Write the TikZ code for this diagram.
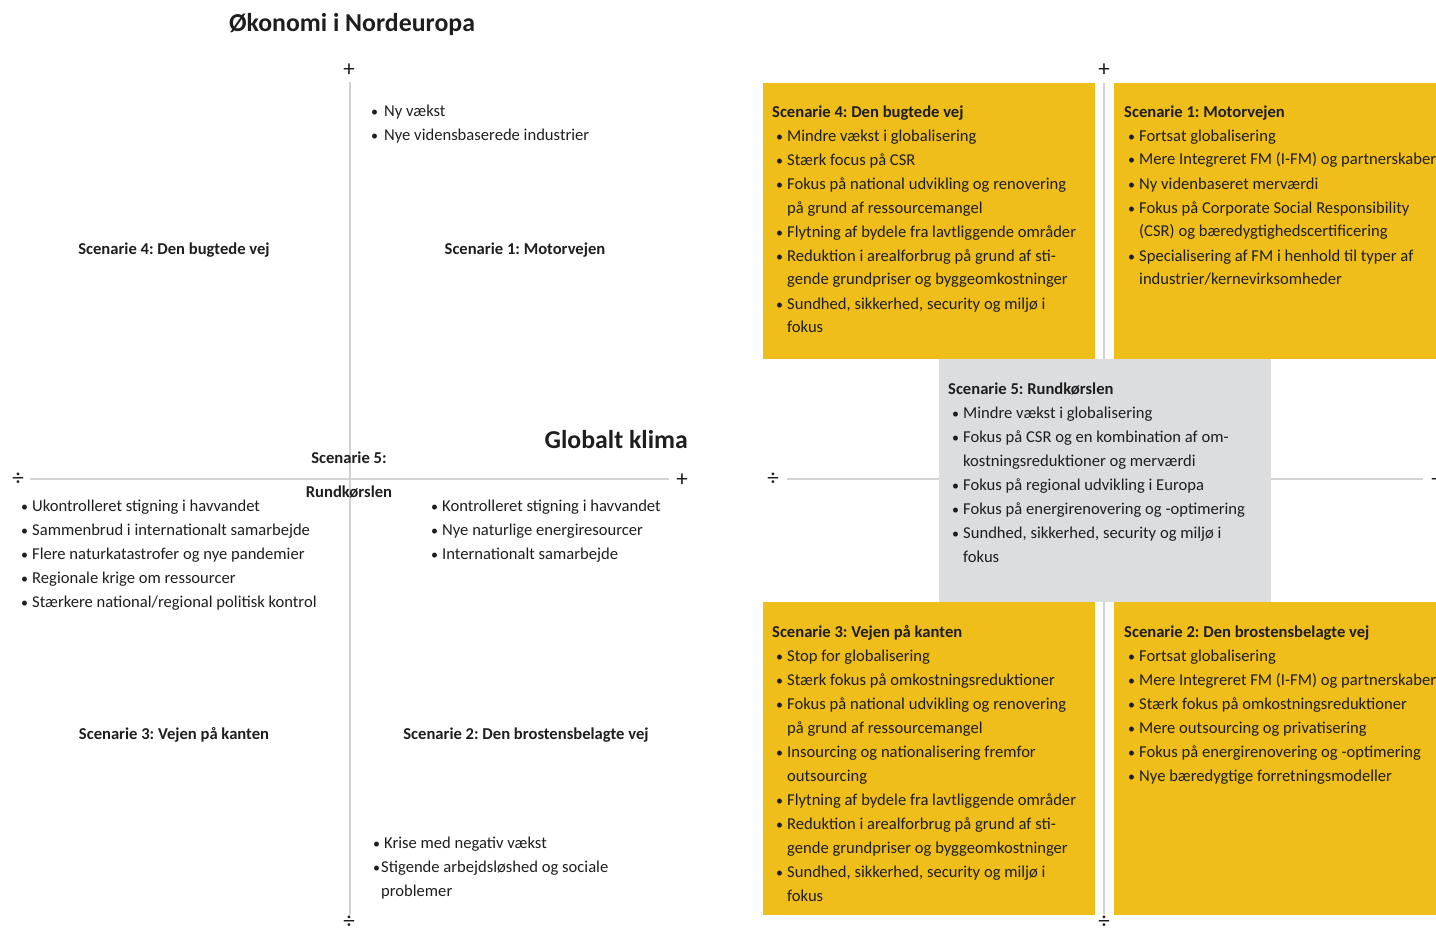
\documentclass[tikz,border=0pt]{standalone}
\usepackage{fontspec}
\setmainfont{Carlito}
\usetikzlibrary{positioning}
\definecolor{scenyellow}{RGB}{240,190,26}
\definecolor{scengray}{RGB}{220,221,223}
\definecolor{axisgray}{RGB}{210,210,210}
\definecolor{inkdark}{RGB}{30,30,30}
\newcommand{\itemdot}{{\fontsize{14}{14}\selectfont\textbullet}}
\newcommand{\ib}{\hspace*{4pt}\makebox[11pt][l]{\itemdot}}
\newcommand{\ic}{\hspace*{15pt}}
\frenchspacing

\begin{document}
\begin{tikzpicture}[x=1pt,y=-1pt,
	every node/.style={text=inkdark, inner sep=0pt, font=\fontsize{16.6}{24}\selectfont\frenchspacing},
	axisline/.style={draw=axisgray, line width=1.5pt},
	sign/.style={font=\fontsize{23}{23}\selectfont},
	head/.style={font=\fontsize{16.6}{24}\selectfont\bfseries\frenchspacing},
	bigtitle/.style={font=\fontsize{25.8}{30}\selectfont\bfseries},
	items/.style={anchor=north west, align=left}]
	\useasboundingbox (0,0) rectangle (1436,928);

	% left chart: axes and signs
	\node[bigtitle] (ecoTitle) at (352,24) {Økonomi i Nordeuropa};
	\node[bigtitle, anchor=east] (climTitle) at (688,440) {Globalt klima};
	\node[sign] (lPlusN) at (349,70) {+};
	\node[sign] (lMinusS) at (349,922) {÷};
	\node[sign] (lMinusW) at (18,479) {÷};
	\node[sign] (lPlusE) at (682,480) {+};
	\coordinate (lAxN) at (350,82);
	\coordinate (lAxS) at (350,915);
	\coordinate (lAxW) at (30,479);
	\coordinate (lAxE) at (669,479);
	\draw[axisline] (lAxN) -- (lAxS);
	\draw[axisline] (lAxW) -- (lAxE);

	\node[head] (lScen4) at (174,250) {Scenarie 4: Den bugtede vej};
	\node[head] (lScen1) at (525,250) {Scenarie 1: Motorvejen};
	\node[head] (lScen3) at (174,735) {Scenarie 3: Vejen på kanten};
	\node[head] (lScen2) at (526,735) {Scenarie 2: Den brostensbelagte vej};
	\node[head] (lScen5a) at (349,458) {Scenarie 5:};
	\node[head] (lScen5b) at (349,492) {Rundkørslen};

	\node[items] (lGrowth) at (371,100) {\strut\makebox[13pt][l]{\itemdot}Ny vækst\\ \makebox[13pt][l]{\itemdot}Nye vidensbaserede industrier};
	\node[items] (lClimNeg) at (21,494) {\strut\makebox[11pt][l]{\itemdot}Ukontrolleret stigning i havvandet\\
		\makebox[11pt][l]{\itemdot}Sammenbrud i internationalt samarbejde\\
		\makebox[11pt][l]{\itemdot}Flere naturkatastrofer og nye pandemier\\
		\makebox[11pt][l]{\itemdot}Regionale krige om ressourcer\\
		\makebox[11pt][l]{\itemdot}Stærkere national/regional politisk kontrol};
	\node[items] (lClimPos) at (431,494) {\strut\makebox[11pt][l]{\itemdot}Kontrolleret stigning i havvandet\\
		\makebox[11pt][l]{\itemdot}Nye naturlige energiresourcer\\
		\makebox[11pt][l]{\itemdot}Internationalt samarbejde};
	\node[items] (lCrisis) at (373,831) {\strut\makebox[11pt][l]{\itemdot}Krise med negativ vækst\\
		\makebox[8pt][l]{\itemdot}Stigende arbejdsløshed og sociale\\
		\hspace*{8pt}problemer};

	% right chart: axes under the scenario boxes
	\node[sign] (rPlusN) at (1104,70) {+};
	\node[sign] (rMinusS) at (1104,922) {÷};
	\node[sign] (rMinusW) at (773,479) {÷};
	\node[sign] (rPlusE) at (1437,480) {+};
	\coordinate (rAxN) at (1104,83);
	\coordinate (rAxS) at (1104,914);
	\coordinate (rAxW) at (787,479);
	\coordinate (rAxE) at (1423,479);
	\draw[axisline] (rAxN) -- (rAxS);
	\draw[axisline] (rAxW) -- (rAxE);

	\fill[scenyellow] (763,83) rectangle (1095,359);
	\fill[scenyellow] (1114,83) rectangle (1436,359);
	\fill[scengray] (939,359) rectangle (1271,602);
	\fill[scenyellow] (763,602) rectangle (1095,915);
	\fill[scenyellow] (1114,602) rectangle (1436,915);

	\node[items] (rScen4) at (772,100) {\strut\textbf{Scenarie 4: Den bugtede vej}\\
		\ib Mindre vækst i globalisering\\
		\ib Stærk focus på CSR\\
		\ib Fokus på national udvikling og renovering\\
		\ic på grund af ressourcemangel\\
		\ib Flytning af bydele fra lavtliggende områder\\
		\ib Reduktion i arealforbrug på grund af sti-\\
		\ic gende grundpriser og byggeomkostninger\\
		\ib Sundhed, sikkerhed, security og miljø i\\
		\ic fokus};
	\node[items] (rScen1) at (1124,100) {\strut\textbf{Scenarie 1: Motorvejen}\\
		\ib Fortsat globalisering\\
		\ib Mere Integreret FM (I-FM) og partnerskaber\\
		\ib Ny videnbaseret merværdi\\
		\ib Fokus på Corporate Social Responsibility\\
		\ic (CSR) og bæredygtighedscertificering\\
		\ib Specialisering af FM i henhold til typer af\\
		\ic industrier/kernevirksomheder};
	\node[items] (rScen5) at (948,377) {\strut\textbf{Scenarie 5: Rundkørslen}\\
		\ib Mindre vækst i globalisering\\
		\ib Fokus på CSR og en kombination af om-\\
		\ic kostningsreduktioner og merværdi\\
		\ib Fokus på regional udvikling i Europa\\
		\ib Fokus på energirenovering og -optimering\\
		\ib Sundhed, sikkerhed, security og miljø i\\
		\ic fokus};
	\node[items] (rScen3) at (772,620) {\strut\textbf{Scenarie 3: Vejen på kanten}\\
		\ib Stop for globalisering\\
		\ib Stærk fokus på omkostningsreduktioner\\
		\ib Fokus på national udvikling og renovering\\
		\ic på grund af ressourcemangel\\
		\ib Insourcing og nationalisering fremfor\\
		\ic outsourcing\\
		\ib Flytning af bydele fra lavtliggende områder\\
		\ib Reduktion i arealforbrug på grund af sti-\\
		\ic gende grundpriser og byggeomkostninger\\
		\ib Sundhed, sikkerhed, security og miljø i\\
		\ic fokus};
	\node[items] (rScen2) at (1124,620) {\strut\textbf{Scenarie 2: Den brostensbelagte vej}\\
		\ib Fortsat globalisering\\
		\ib Mere Integreret FM (I-FM) og partnerskaber\\
		\ib Stærk fokus på omkostningsreduktioner\\
		\ib Mere outsourcing og privatisering\\
		\ib Fokus på energirenovering og -optimering\\
		\ib Nye bæredygtige forretningsmodeller};
\end{tikzpicture}
\end{document}
